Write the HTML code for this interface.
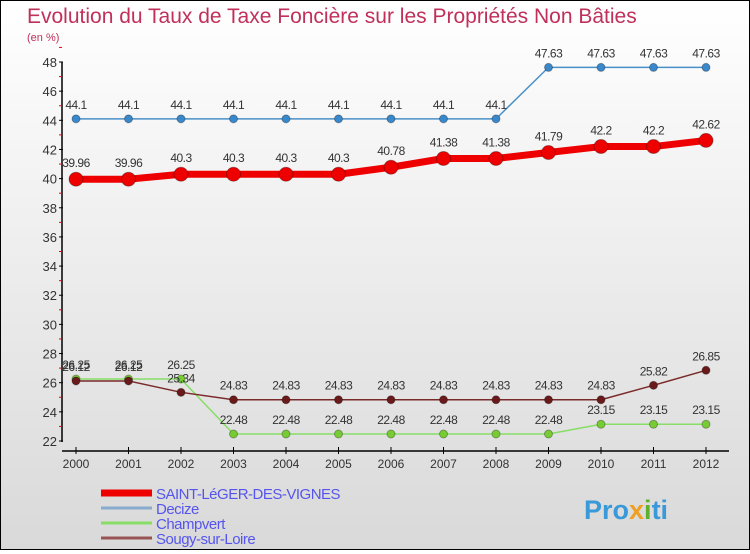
<!DOCTYPE html>
<html><head><meta charset="utf-8">
<style>
body{margin:0;width:750px;height:550px;overflow:hidden;font-family:"Liberation Sans",sans-serif}
#wrap{position:relative;width:748px;height:548px;border:1px solid #000;background:linear-gradient(#ffffff,#d9d9d9)}
</style></head><body>
<div id="wrap">
<svg id="chart" width="748" height="548" xmlns="http://www.w3.org/2000/svg">
<text x="26" y="22" font-size="21" fill="#c0305a">Evolution du Taux de Taxe Foncière sur les Propriétés Non Bâties</text>
<text x="26" y="40" font-size="11" fill="#c0305a">(en %)</text>
<g id="axes"></g>
<g id="series"></g>
<g id="legend"></g>
<text x="583" y="518" font-size="27" font-weight="bold" fill="#3a9ad9">Pro<tspan fill="#f0a020">x</tspan><tspan fill="#60b030">i</tspan>ti</text>
</svg>
</div>
<script>
const years=[2000,2001,2002,2003,2004,2005,2006,2007,2008,2009,2010,2011,2012];
const yTicks=[22,24,26,28,30,32,34,36,38,40,42,44,46,48];
const saint=[39.96,39.96,40.3,40.3,40.3,40.3,40.78,41.38,41.38,41.79,42.2,42.2,42.62];
const decize=[44.1,44.1,44.1,44.1,44.1,44.1,44.1,44.1,44.1,47.63,47.63,47.63,47.63];
const champvert=[26.25,26.25,26.25,22.48,22.48,22.48,22.48,22.48,22.48,22.48,23.15,23.15,23.15];
const sougy=[26.12,26.12,25.34,24.83,24.83,24.83,24.83,24.83,24.83,24.83,24.83,25.82,26.85];
const NS="http://www.w3.org/2000/svg";
const X=i=>75+i*52.5;
const Y=v=>440-(v-22)*(379/26);
function mk(tag,attrs,parent){const e=document.createElementNS(NS,tag);for(const k in attrs)e.setAttribute(k,attrs[k]);parent.appendChild(e);return e;}
const ax=document.getElementById('axes');
let l=mk('line',{x1:61,y1:61,x2:61,y2:441,stroke:'#000','stroke-width':1.5},ax);


l=mk('line',{x1:61,y1:450,x2:728,y2:450,stroke:'#000','stroke-width':1.5},ax);


yTicks.forEach(v=>{
 mk('line',{x1:58,y1:Y(v),x2:62,y2:Y(v),stroke:'#000'},ax);
 mk('line',{x1:58,y1:Y(v+1),x2:61,y2:Y(v+1),stroke:'#e00'},ax);
 const t=mk('text',{x:56,y:Y(v)+5,'text-anchor':'end','font-size':13,fill:'#333'},ax);
 t.textContent=v;
 
 
});
years.forEach((yr,i)=>{
 mk('line',{x1:X(i),y1:446,x2:X(i),y2:453,stroke:'#000'},ax);
 const t=mk('text',{x:X(i),y:467,'text-anchor':'middle','font-size':12,fill:'#333'},ax);
 t.textContent=yr;
 
 
});
const sg=document.getElementById('series');
function series(name,data,color,lw,r,dot,labelOff){
 const g=mk('g',{},sg);
 
 
 const p=mk('polyline',{points:data.map((v,i)=>X(i)+','+Y(v)).join(' '),fill:'none',stroke:color,'stroke-width':lw,'stroke-linejoin':'round'},g);
 
 
 data.forEach((v,i)=>{
  const c=mk('circle',{cx:X(i),cy:Y(v),r:r,fill:dot,stroke:'rgba(0,0,0,0.3)','stroke-width':1},g);
  
  
  const t=mk('text',{x:X(i),y:Y(v)-labelOff,'text-anchor':'middle','font-size':12,fill:'#333','letter-spacing':'-0.5'},g);
  t.textContent=v;
  
  
 });
}
series('decize',decize,'#4a90c8',1.5,4,'#3a88cc',10);
series('champvert',champvert,'#88dd66',1.5,4,'#77cc33',10);
series('sougy',sougy,'#7a2a2a',1.5,4,'#6a1a1a',10);
series('saint-leger',saint,'#ee0000',7,7,'#ee0000',12);
const lg=document.getElementById('legend');
const items=[['SAINT-LéGER-DES-VIGNES','#ee0000',7],['Decize','#88aacc',3],['Champvert','#88dd66',3],['Sougy-sur-Loire','#995555',3]];
items.forEach((it,i)=>{
 const y=492+i*15;
 const g=mk('g',{},lg);
 
 
 mk('line',{x1:100,y1:y,x2:151,y2:y,stroke:it[1],'stroke-width':it[2]},g);
 const t=mk('text',{x:155,y:y+6,'font-size':15,fill:'#5555ee','letter-spacing':'-0.5'},g);
 t.textContent=it[0];
});
</script>
</body></html>
